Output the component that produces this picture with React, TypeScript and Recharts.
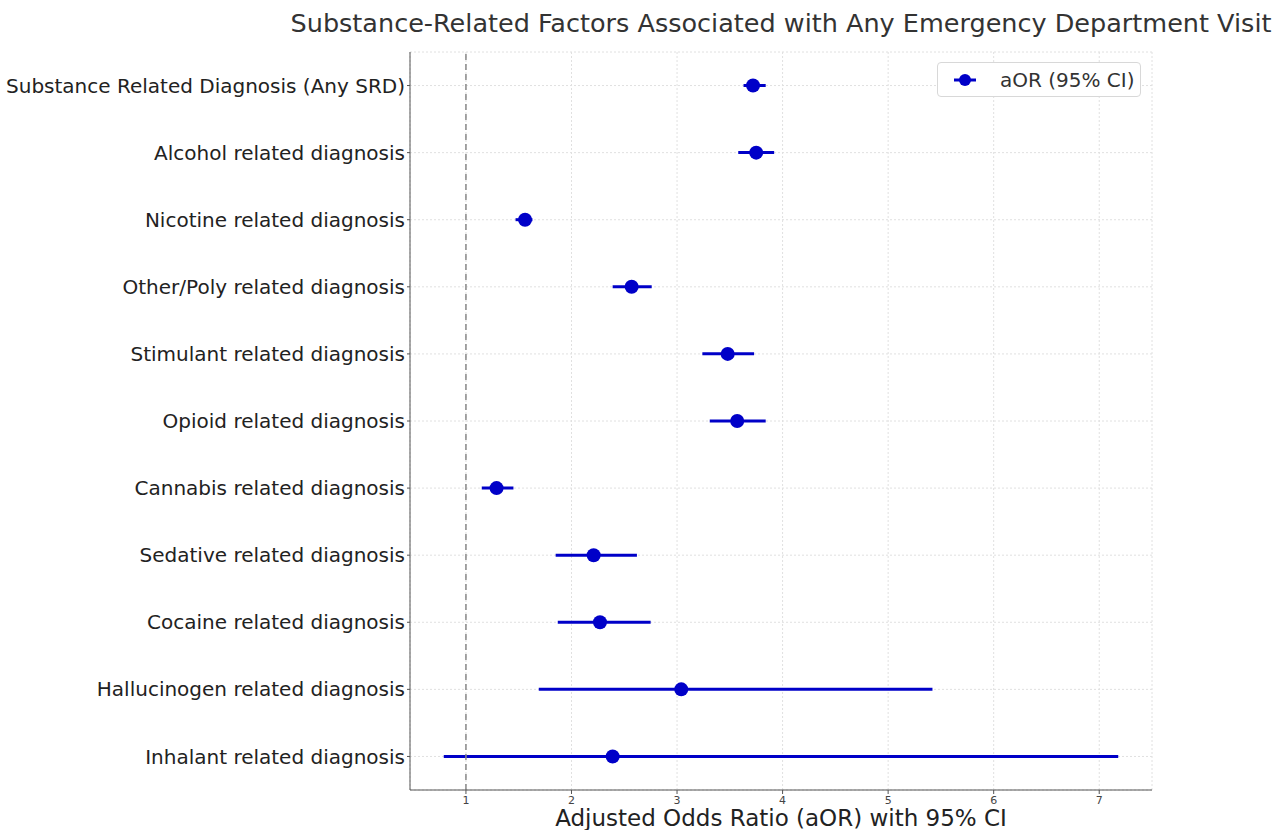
import {
    ComposedChart,
    Bar,
    Line,
    XAxis,
    YAxis,
    CartesianGrid,
    ReferenceLine,
} from "recharts";

const categories = [
    "Substance Related Diagnosis (Any SRD)",
    "Alcohol related diagnosis",
    "Nicotine related diagnosis",
    "Other/Poly related diagnosis",
    "Stimulant related diagnosis",
    "Opioid related diagnosis",
    "Cannabis related diagnosis",
    "Sedative related diagnosis",
    "Cocaine related diagnosis",
    "Hallucinogen related diagnosis",
    "Inhalant related diagnosis",
];
const aor = [3.72, 3.75, 1.56, 2.57, 3.48, 3.57, 1.29, 2.21, 2.27, 3.04, 2.39];
const ciLow = [3.63, 3.58, 1.47, 2.39, 3.24, 3.31, 1.15, 1.85, 1.87, 1.69, 0.79];
const ciHigh = [3.84, 3.92, 1.63, 2.76, 3.73, 3.84, 1.45, 2.62, 2.75, 5.42, 7.18];
const xTicks = [1, 2, 3, 4, 5, 6, 7];

const BLUE = "#0000c8";
const FONT = "'DejaVu Sans', sans-serif";

const data = categories.map((name, i) => ({
    name,
    aor: aor[i],
    ci: [ciLow[i], ciHigh[i]],
}));

export default function App() {
    return (
        <div
            style={{
                position: "absolute",
                left: 0,
                top: 0,
                width: 1286,
                height: 830,
                background: "#fff",
                fontFamily: FONT,
            }}
        >
            {/* title */}
            <div
                style={{
                    position: "absolute",
                    top: 8,
                    left: 231,
                    width: 1100,
                    textAlign: "center",
                    fontSize: 25.5,
                    color: "#333",
                    whiteSpace: "nowrap",
                }}
            >
                Substance-Related Factors Associated with Any Emergency Department Visit
            </div>

            <ComposedChart
                width={1286}
                height={830}
                data={data}
                layout="vertical"
                margin={{ top: 52, right: 134, bottom: 0, left: 0 }}
            >
                <CartesianGrid stroke="#e0e0e0" strokeDasharray="2 2" />
                <XAxis
                    type="number"
                    domain={[0.47, 7.5]}
                    ticks={xTicks}
                    allowDataOverflow
                    height={40}
                    tickSize={4}
                    tickMargin={2}
                    stroke="#555"
                    tick={{ fontSize: 11, fill: "#444", fontFamily: FONT }}
                    label={{
                        value: "Adjusted Odds Ratio (aOR) with 95% CI",
                        position: "insideBottom",
                        offset: 4,
                        fontSize: 23,
                        fill: "#222",
                        fontFamily: FONT,
                    }}
                />
                <YAxis
                    type="category"
                    dataKey="name"
                    width={410}
                    tickSize={3}
                    tickMargin={2}
                    stroke="#555"
                    tick={{ fontSize: 20, fill: "#222", fontFamily: FONT }}
                    interval={0}
                />
                <ReferenceLine x={1} stroke="#888" strokeWidth={1.5} strokeDasharray="6 4" />
                <Bar dataKey="ci" barSize={3} fill={BLUE} isAnimationActive={false} />
                <Line
                    dataKey="aor"
                    stroke="none"
                    dot={{ r: 7, fill: BLUE, stroke: "none" }}
                    activeDot={false}
                    isAnimationActive={false}
                />
            </ComposedChart>

            {/* legend */}
            <div
                style={{
                    position: "absolute",
                    left: 937,
                    top: 62,
                    width: 204,
                    height: 35,
                    border: "1px solid #d8d8d8",
                    borderRadius: 4,
                    background: "#fff",
                    display: "flex",
                    alignItems: "center",
                    boxSizing: "border-box",
                }}
            >
                <svg width={60} height={20} style={{ marginLeft: 12 }}>
                    <line x1={4} y1={10} x2={26} y2={10} stroke={BLUE} strokeWidth={3} />
                    <circle cx={15} cy={10} r={6} fill={BLUE} />
                </svg>
                <span style={{ fontSize: 20, color: "#333", marginLeft: -10 }}>aOR (95% CI)</span>
            </div>
        </div>
    );
}
